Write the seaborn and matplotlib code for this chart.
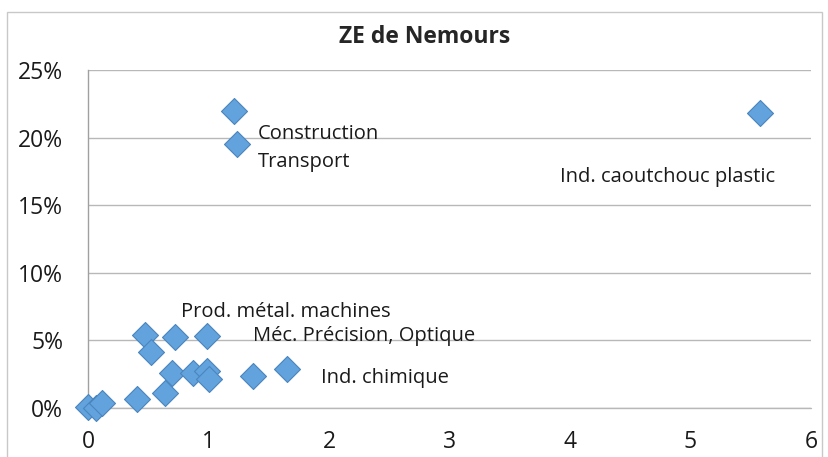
import matplotlib.pyplot as plt
import seaborn as sns
import pandas as pd
from matplotlib.ticker import PercentFormatter
from matplotlib.patches import Rectangle

# indice de spécificité (x) vs part de l'emploi (y)
x_vals = [1.21, 1.24, 5.58, 0.47, 0.52, 0.72, 0.99, 0.70, 0.87,
          0.99, 1.00, 1.37, 1.65, 0.41, 0.64, 0.0, 0.07, 0.12]
y_vals = [0.2197, 0.1953, 0.2182, 0.0540, 0.0414, 0.0525, 0.0533, 0.0259, 0.0259,
          0.0274, 0.0214, 0.0237, 0.0288, 0.0067, 0.0111, 0.0005, 0.0, 0.0037]

labels = ['Construction', 'Transport', 'Ind. caoutchouc plastic',
          'Prod. métal. machines', 'Méc. Précision, Optique', 'Ind. chimique']
label_x = [1.41, 1.41, 3.92, 0.77, 1.37, 1.93]
label_y = [0.203, 0.182, 0.171, 0.071, 0.053, 0.022]

x_ticks = [0, 1, 2, 3, 4, 5, 6]
y_ticks = [0, 0.05, 0.10, 0.15, 0.20, 0.25]

df = pd.DataFrame({'x': x_vals, 'y': y_vals})

sns.set_style('white')
plt.rcParams['font.family'] = ['Open Sans', 'DejaVu Sans']

fig = plt.figure(figsize=(8.29, 4.57), dpi=100)
ax = fig.add_axes([0.1062, 0.1072, 0.8721, 0.7396])

fig.patches.append(Rectangle((7 / 829, -0.01), 815 / 829, (457 - 12) / 457 + 0.01,
                             transform=fig.transFigure, fill=False,
                             edgecolor='#C8C8C8', linewidth=1.0, zorder=0))

sns.scatterplot(data=df, x='x', y='y', ax=ax, marker='D', s=175,
                color='#62A2DD', edgecolor='#4A85BD', linewidth=0.8,
                clip_on=False, zorder=3, legend=False)

for txt, lx, ly in zip(labels, label_x, label_y):
    ax.text(lx, ly, txt, fontsize=14.5, color='#1A1A1A', va='center', ha='left', zorder=4)

ax.set_xlim(0, 6)
ax.set_ylim(0, 0.25)
ax.set_xticks(x_ticks)
ax.set_yticks(y_ticks)
ax.yaxis.set_major_formatter(PercentFormatter(1.0, decimals=0))
ax.tick_params(axis='x', labelsize=16.5, pad=16, length=0, labelcolor='#1A1A1A')
ax.tick_params(axis='y', labelsize=16.5, pad=18, length=0, labelcolor='#1A1A1A')
ax.set_xlabel('')
ax.set_ylabel('')

ax.grid(axis='y', color='#B8B8B8', linewidth=1.0)
ax.axhline(0, color='#B8B8B8', linewidth=1.0, clip_on=False, zorder=1)
ax.set_axisbelow(True)
for side in ['top', 'right', 'bottom']:
    ax.spines[side].set_visible(False)
ax.spines['left'].set_color('#A0A0A0')
ax.spines['left'].set_linewidth(1.0)

fig.text(425 / 829, 1 - 37 / 457, 'ZE de Nemours', fontsize=16.5, fontweight='bold',
         ha='center', va='center')

plt.savefig('out.png', dpi=100)
